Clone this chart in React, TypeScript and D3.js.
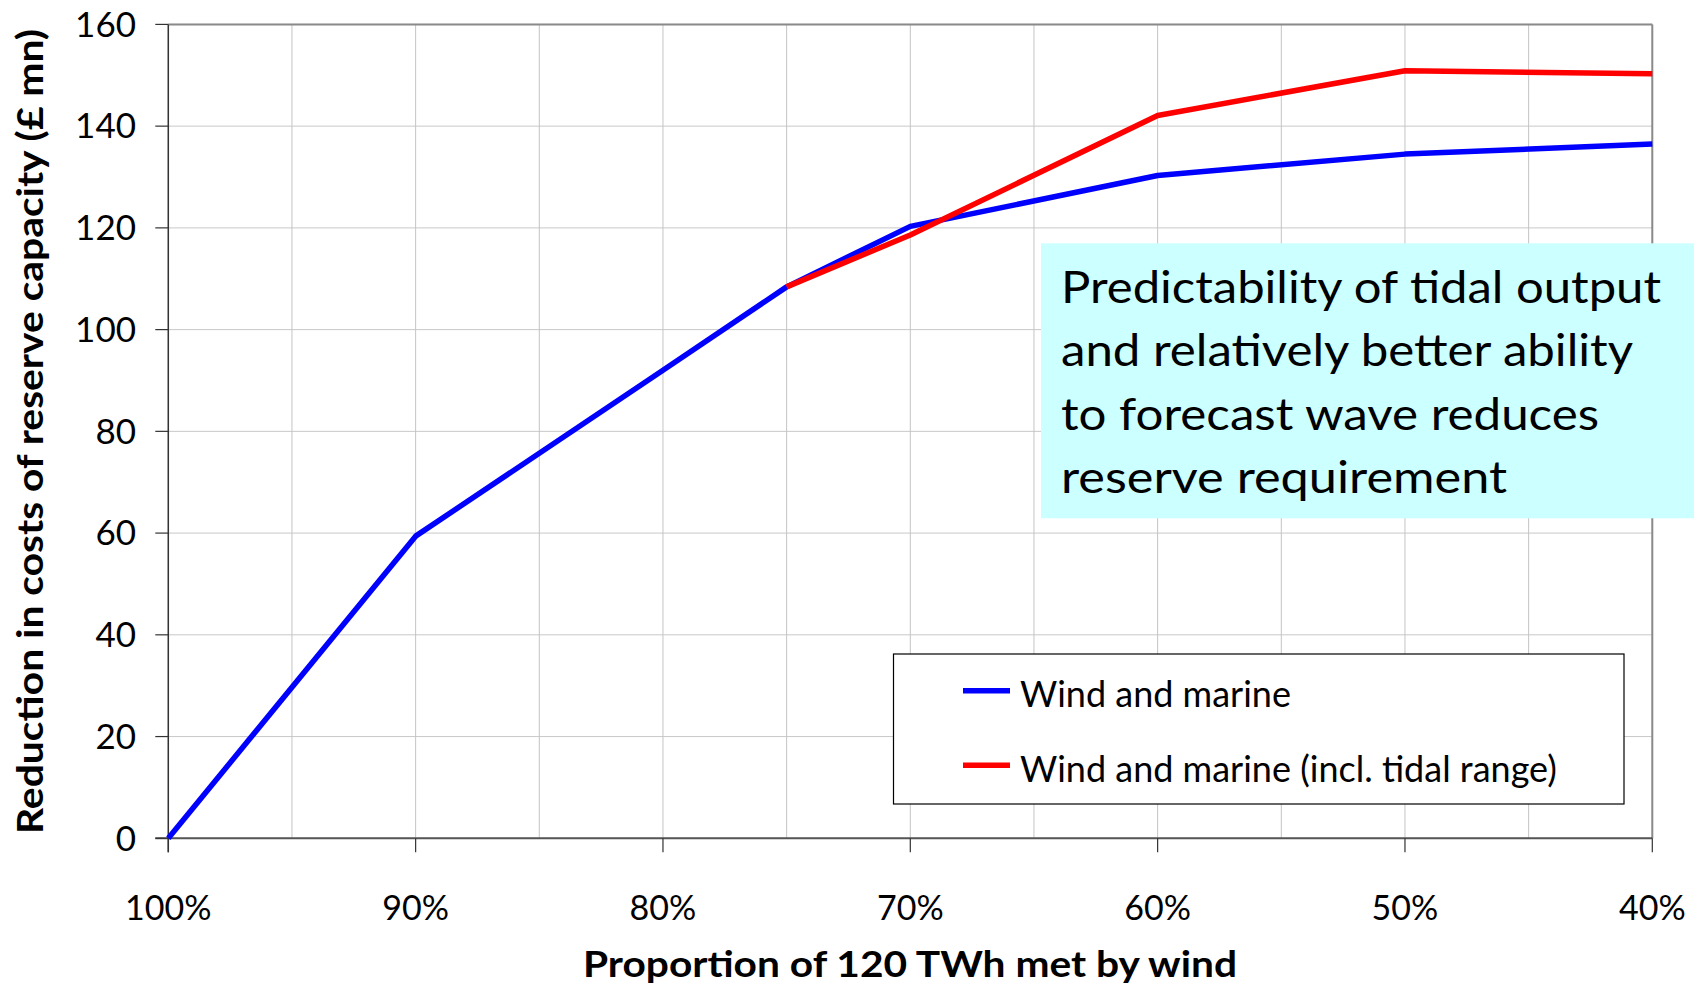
import React from "react";
import * as d3 from "d3";

const xTicks = [100, 90, 80, 70, 60, 50, 40];
const xGrid = [100, 95, 90, 85, 80, 75, 70, 65, 60, 55, 50, 45, 40];
const yTicks = [0, 20, 40, 60, 80, 100, 120, 140, 160];

const windMarineX = [100, 90, 80, 75, 70, 60, 50, 40];
const windMarineY = [0, 59.4, 92.0, 108.4, 120.3, 130.3, 134.5, 136.5];

const tidalX = [75, 70, 60, 50, 40];
const tidalY = [108.4, 118.6, 142.1, 150.9, 150.3];

const seriesNames = ["Wind and marine", "Wind and marine (incl. tidal range)"];
const seriesColors = ["#0000ff", "#ff0000"];

const annotationLines = [
  "Predictability of tidal output",
  "and relatively better ability",
  "to forecast wave reduces",
  "reserve requirement",
];
const annotationWidths = [600, 572, 538, 446];

const xTitle = "Proportion of 120 TWh met by wind";
const yTitle = "Reduction in costs of reserve capacity (£ mn)";

const FONT = "Lato, 'Open Sans', sans-serif";

export default function App() {
  const W = 1702;
  const H = 988;
  const x = d3.scaleLinear().domain([100, 40]).range([168.3, 1652.3]);
  const y = d3.scaleLinear().domain([0, 160]).range([838.3, 24.4]);

  const line = d3
    .line<[number, number]>()
    .x((d) => x(d[0]))
    .y((d) => y(d[1]));

  const blue = windMarineX.map((v, i) => [v, windMarineY[i]] as [number, number]);
  const red = tidalX.map((v, i) => [v, tidalY[i]] as [number, number]);

  const [x0, x1] = x.range();
  const [y0, y1] = y.range();

  return (
    <svg
      width={W}
      height={H}
      style={{ position: "absolute", left: 0, top: 0, background: "#fff" }}
      fontFamily={FONT}
    >
      <rect x={0} y={0} width={W} height={H} fill="#fff" />
      {/* grid */}
      {yTicks.map((t) => (
        <line key={"hy" + t} x1={x0} x2={x1} y1={y(t)} y2={y(t)} stroke="#c8c8c8" strokeWidth={1} />
      ))}
      {xGrid.map((t) => (
        <line key={"gx" + t} x1={x(t)} x2={x(t)} y1={y1} y2={y0} stroke="#c4c4c4" strokeWidth={1} />
      ))}
      {/* top & right border */}
      <line x1={x0} x2={x1} y1={y1} y2={y1} stroke="#8a8a8a" strokeWidth={2} />
      <line x1={x1} x2={x1} y1={y1} y2={y0} stroke="#8a8a8a" strokeWidth={2} />
      {/* axes */}
      <line x1={x0} x2={x0} y1={y1} y2={y0 + 14} stroke="#333" strokeWidth={1.5} />
      <line x1={x0 - 13} x2={x1} y1={y0} y2={y0} stroke="#555" strokeWidth={2} />
      {yTicks.map((t) => (
        <g key={"yt" + t}>
          <line x1={x0 - 13} x2={x0} y1={y(t)} y2={y(t)} stroke="#333" strokeWidth={1.2} />
          <text x={136} y={y(t)} dy="0.35em" textAnchor="end" fontSize={35} fill="#000">
            {t}
          </text>
        </g>
      ))}
      {xTicks.map((t) => (
        <g key={"xt" + t}>
          <line x1={x(t)} x2={x(t)} y1={y0} y2={y0 + 14} stroke="#333" strokeWidth={1.2} />
          <text x={x(t)} y={920} textAnchor="middle" fontSize={34} fill="#000">
            {t + "%"}
          </text>
        </g>
      ))}
      {/* series */}
      <path d={line(blue) || ""} fill="none" stroke={seriesColors[0]} strokeWidth={5.5} strokeLinejoin="round" />
      <path d={line(red) || ""} fill="none" stroke={seriesColors[1]} strokeWidth={5.5} strokeLinejoin="round" />

      {/* axis titles */}
      <text
        x={910}
        y={977}
        textAnchor="middle"
        fontSize={36}
        fontWeight="bold"
        fill="#000"
        textLength={654}
        lengthAdjust="spacingAndGlyphs"
      >
        {xTitle}
      </text>
      <text
        transform={`translate(43,431.5) rotate(-90)`}
        textAnchor="middle"
        fontSize={36}
        fontWeight="bold"
        fill="#000"
        textLength={805}
        lengthAdjust="spacingAndGlyphs"
      >
        {yTitle}
      </text>

      {/* annotation */}
      <rect x={1041} y={243.3} width={653} height={275} fill="#ccffff" />
      {annotationLines.map((s, i) => (
        <text
          key={"an" + i}
          x={1061}
          y={303 + i * 63.4}
          fontSize={45}
          fill="#000"
          textLength={annotationWidths[i]}
          lengthAdjust="spacingAndGlyphs"
        >
          {s}
        </text>
      ))}

      {/* legend */}
      <rect x={893.5} y={654} width={730.5} height={150} fill="#fff" stroke="#000" strokeWidth={1.2} />
      {seriesNames.map((s, i) => (
        <g key={"lg" + i}>
          <line
            x1={963}
            x2={1010}
            y1={690.7 + i * 74.6}
            y2={690.7 + i * 74.6}
            stroke={seriesColors[i]}
            strokeWidth={5.5}
          />
          <text x={1020} y={706.7 + i * 75} fontSize={36} fill="#000">
            {s}
          </text>
        </g>
      ))}
    </svg>
  );
}
